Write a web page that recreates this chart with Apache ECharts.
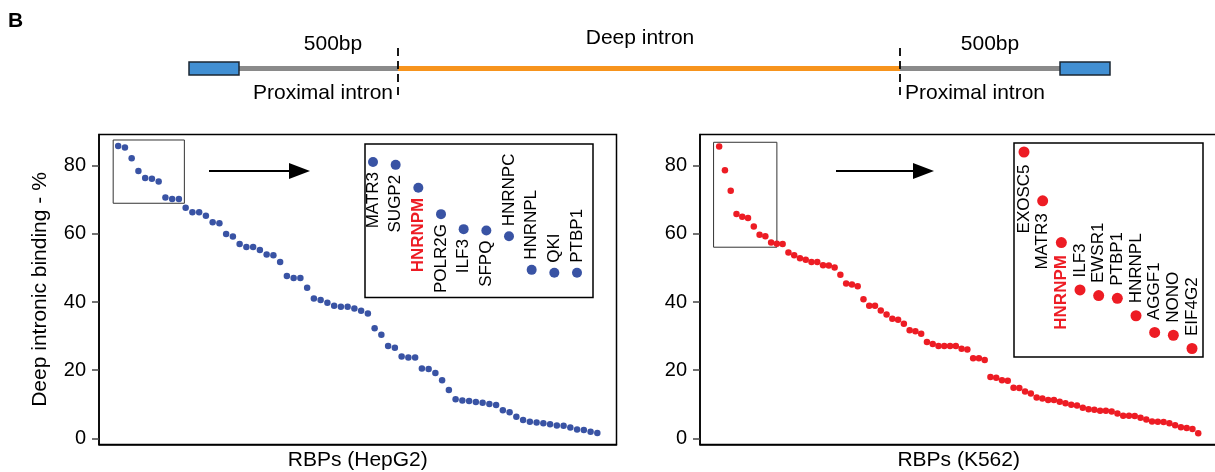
<!DOCTYPE html>
<html><head><meta charset="utf-8">
<script src="https://cdn.jsdelivr.net/npm/echarts@6/dist/echarts.min.js"></script>
<style>html,body{margin:0;padding:0;background:#fff}#c{width:1215px;height:472px}</style>
</head><body><div id="c"></div>
<script>
// ---- data ----
const hepg2Values = [85.7,85.3,82.1,78.4,76.3,76.1,75.3,70.6,70.2,70.2,
  67.6,66.3,66.3,65.3,63.4,63.1,59.9,59.2,57.0,56.1,
  56.1,55.2,53.9,53.7,51.7,47.6,47.0,47.0,44.2,41.0,
  40.6,39.8,38.9,38.6,38.6,38.1,37.4,36.6,32.3,30.4,
  27.1,26.6,24.0,23.7,23.7,20.5,20.4,19.2,17.1,14.2,
  11.5,11.1,11.0,10.7,10.5,10.1,9.8,8.3,7.7,6.4,
  5.4,4.9,4.7,4.5,4.2,3.8,3.7,3.2,2.6,2.5,
  2.0,1.6];
const k562Values = [85.6,78.6,72.6,65.8,65.0,64.6,62.1,59.7,59.3,57.4,
  57.1,57.0,54.5,53.7,52.8,52.4,51.7,51.7,50.8,50.7,
  50.1,48.0,45.4,45.1,44.6,40.8,38.9,38.9,37.5,36.3,
  35.1,34.8,33.6,31.7,31.4,30.7,28.3,27.7,27.1,27.1,
  27.1,27.1,26.3,26.1,23.5,23.5,23.0,18.0,17.8,17.1,
  16.9,14.9,14.8,13.8,13.2,12.0,11.7,11.3,11.3,10.8,
  10.3,9.9,9.7,9.0,8.6,8.4,8.1,8.1,7.9,7.3,
  6.7,6.7,6.6,6.1,5.6,5.0,4.9,4.8,4.5,3.9,
  3.3,3.1,2.8,1.5];
const hepg2Top = ['MATR3','SUGP2','HNRNPM','POLR2G','ILF3','SFPQ','HNRNPC','HNRNPL','QKI','PTBP1'];
const k562Top = ['EXOSC5','MATR3','HNRNPM','ILF3','EWSR1','PTBP1','HNRNPL','AGGF1','NONO','EIF4G2'];
const yTicks = [0,20,40,60,80];
const highlighted = 'HNRNPM';
const xTitles = ['RBPs (HepG2)','RBPs (K562)'];
const yTitle = 'Deep intronic binding - %';

// ---- style ----
const FONT = 'Liberation Sans, Arial, Helvetica, sans-serif';
const BLUE = '#3953A4', RED = '#ED1C24';

function padRange(n){ const e = (n-1)*0.04; return [1-e, n+e]; }
function mainX(gi, n, title){
  const r = padRange(n);
  return {type:'value', gridIndex:gi, min:r[0], max:r[1],
    axisLine:{show:true,onZero:false,lineStyle:{color:'#000',width:1.5}},
    axisTick:{show:false}, axisLabel:{show:false}, splitLine:{show:false},
    name:title, nameLocation:'middle', nameGap:5,
    nameTextStyle:{fontSize:21,color:'#000',fontFamily:FONT,verticalAlign:'top'}};
}
function mainY(gi, title){
  return {type:'value', gridIndex:gi, min:-1.76, max:89.08,
    axisLine:{show:true,onZero:false,lineStyle:{color:'#000',width:1.5}},
    axisTick:{show:true,length:7,lineStyle:{color:'#444',width:1.5},customValues:yTicks},
    axisLabel:{show:true,customValues:yTicks,fontSize:20,margin:13,color:'#000',fontFamily:FONT},
    splitLine:{show:false},
    name:title||'', nameLocation:'middle', nameGap:48, nameRotate:90,
    nameTextStyle:{fontSize:21,color:'#000',fontFamily:FONT}};
}
function hidden(gi,min,max){ return {type:'value',gridIndex:gi,show:false,min:min,max:max,splitLine:{show:false}}; }

function insetData(vals, names, nBelow, dist){
  return names.map((nm,i)=>{
    const hi = nm===highlighted;
    const below = i<nBelow;
    return {name:nm, value:[i, vals[i]], label:{
      show:true, formatter:'{b}', rotate:90,
      position: below?'bottom':'top', distance:dist,
      align: below?'right':'left', verticalAlign:'middle',
      fontSize:17, fontFamily:FONT,
      color: hi?RED:'#000', fontWeight: hi?'bold':'normal'}};
  });
}

const gridBase = {show:true, borderColor:'#000', borderWidth:1.5, containLabel:false, outerBoundsMode:'none'};
const option = {
  animation:false,
  backgroundColor:'#fff',
  textStyle:{fontFamily:FONT},
  grid:[
    Object.assign({left:99, top:134.5, width:517.5, height:310}, gridBase),
    Object.assign({left:700, top:134.5, width:517.4, height:310}, gridBase),
    Object.assign({left:365, top:144, width:228, height:153.5, backgroundColor:'#fff'}, gridBase),
    Object.assign({left:1014, top:143, width:189, height:214, backgroundColor:'#fff'}, gridBase)
  ],
  xAxis:[ mainX(0, hepg2Values.length, xTitles[0]), mainX(1, k562Values.length, xTitles[1]),
          hidden(2,-0.353,9.706), hidden(3,-0.536,9.589) ],
  yAxis:[ mainY(0, yTitle), mainY(1, ''), hidden(2,66.73,88.22), hidden(3,56.18,86.89) ],
  series:[
    {type:'scatter', xAxisIndex:0, yAxisIndex:0, symbolSize:6.5,
     itemStyle:{color:BLUE, opacity:1},
     data: hepg2Values.map((v,i)=>[i+1,v]),
     markArea:{silent:true, itemStyle:{color:'rgba(0,0,0,0)',borderColor:'#333',borderWidth:1},
       data:[[{coord:[0.26,87.47]},{coord:[10.81,68.93]}]]}},
    {type:'scatter', xAxisIndex:1, yAxisIndex:1, symbolSize:6.5,
     itemStyle:{color:RED, opacity:1},
     data: k562Values.map((v,i)=>[i+1,v]),
     markArea:{silent:true, itemStyle:{color:'rgba(0,0,0,0)',borderColor:'#333',borderWidth:1},
       data:[[{coord:[0.03,86.8]},{coord:[11.0,56.05]}]]}},
    {type:'scatter', xAxisIndex:2, yAxisIndex:2, symbolSize:10,
     itemStyle:{color:BLUE, opacity:1},
     data: insetData(hepg2Values, hepg2Top, 6, 5)},
    {type:'scatter', xAxisIndex:3, yAxisIndex:3, symbolSize:11,
     itemStyle:{color:RED, opacity:1},
     data: insetData(k562Values, k562Top, 3, 7)}
  ],
  graphic:[
    {type:'text', left:8, top:11, style:{text:'B', font:'bold 21px '+FONT, fill:'#000'}},
    // gene schematic
    {type:'line', shape:{x1:239,y1:68.5,x2:398,y2:68.5}, style:{stroke:'#8a8a8a',lineWidth:5}},
    {type:'line', shape:{x1:398,y1:68.5,x2:900,y2:68.5}, style:{stroke:'#F7941D',lineWidth:5}},
    {type:'line', shape:{x1:900,y1:68.5,x2:1060,y2:68.5}, style:{stroke:'#8a8a8a',lineWidth:5}},
    {type:'rect', shape:{x:189,y:62,width:50,height:13}, style:{fill:'#418FD3',stroke:'#1b2733',lineWidth:1.5}},
    {type:'rect', shape:{x:1060,y:62,width:50,height:13}, style:{fill:'#418FD3',stroke:'#1b2733',lineWidth:1.5}},
    {type:'line', shape:{x1:398,y1:48,x2:398,y2:100}, style:{stroke:'#000',lineWidth:1.8,lineDash:[8,5]}},
    {type:'line', shape:{x1:900,y1:48,x2:900,y2:100}, style:{stroke:'#000',lineWidth:1.8,lineDash:[8,5]}},
    {type:'text', x:333, y:44, style:{text:'500bp', font:'21px '+FONT, fill:'#000', textAlign:'center', textVerticalAlign:'middle'}},
    {type:'text', x:640, y:38, style:{text:'Deep intron', font:'21px '+FONT, fill:'#000', textAlign:'center', textVerticalAlign:'middle'}},
    {type:'text', x:990, y:44, style:{text:'500bp', font:'21px '+FONT, fill:'#000', textAlign:'center', textVerticalAlign:'middle'}},
    {type:'text', x:393, y:93, style:{text:'Proximal intron', font:'21px '+FONT, fill:'#000', textAlign:'right', textVerticalAlign:'middle'}},
    {type:'text', x:905, y:93, style:{text:'Proximal intron', font:'21px '+FONT, fill:'#000', textAlign:'left', textVerticalAlign:'middle'}},
    // zoom arrows
    {type:'line', shape:{x1:209,y1:171,x2:292,y2:171}, style:{stroke:'#000',lineWidth:1.8}},
    {type:'polygon', shape:{points:[[289,163],[310,171],[289,179]]}, style:{fill:'#000'}},
    {type:'line', shape:{x1:836,y1:171,x2:916,y2:171}, style:{stroke:'#000',lineWidth:1.8}},
    {type:'polygon', shape:{points:[[913,163],[934,171],[913,179]]}, style:{fill:'#000'}}
  ]
};
const chart = echarts.init(document.getElementById('c'), null, {renderer:'canvas'});
chart.setOption(option);
</script></body></html>
